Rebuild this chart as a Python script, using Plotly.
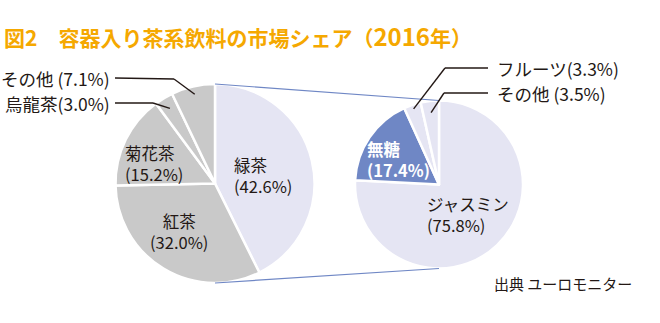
import math
import plotly.graph_objects as go

W, H = 660, 323
FONT = "Noto Sans CJK JP"

title_head = "図2　容器入り茶系飲料の市場シェア（"
title_year = "2016"
title_tail = "年）"
source_text = "出典 ユーロモニター"

# 容器入り茶系飲料（全体）
tea_labels = ["緑茶", "紅茶", "菊花茶", "烏龍茶", "その他"]
tea_shares = [42.6, 32.0, 15.2, 3.0, 7.1]

# 緑茶の内訳
green_labels = ["ジャスミン", "無糖", "フルーツ", "その他"]
green_shares = [75.8, 17.4, 3.3, 3.5]

GREY = "#C9C9C9"
LAVENDER = "#E5E5F3"
BLUE = "#6F87C5"
LINK = "#6F87C5"
INK = "#231815"
TITLE_COLOR = "#F5A800"

tea_colors = [LAVENDER, GREY, GREY, GREY, GREY]
green_colors = [LAVENDER, BLUE, LAVENDER, LAVENDER]

# pie geometry in pixels (centre x, centre y, radius)
L_CX, L_CY, L_R = 215, 183.5, 99.5
R_CX, R_CY, R_R = 439, 184.5, 84


def fx(x):
    return x / W


def fy(y):
    return 1 - y / H


def domain(cx, cy, r):
    return dict(x=[fx(cx - r), fx(cx + r)], y=[fy(cy + r), fy(cy - r)])


def slice_point(shares, idx, cx, cy, r, k):
    """Point at k*r along the bisector of slice idx (clockwise from 12 o'clock)."""
    total = sum(shares)
    start = sum(shares[:idx]) / total * 360
    mid = math.radians(start + shares[idx] / total * 180)
    return cx + k * r * math.sin(mid), cy - k * r * math.cos(mid)


fig = go.Figure()

for labels, shares, colors, (cx, cy, r) in [
    (tea_labels, tea_shares, tea_colors, (L_CX, L_CY, L_R)),
    (green_labels, green_shares, green_colors, (R_CX, R_CY, R_R)),
]:
    fig.add_trace(go.Pie(
        labels=labels, values=shares, sort=False, direction="clockwise",
        rotation=0, textinfo="none", hoverinfo="label+percent",
        marker=dict(colors=colors, line=dict(color="white", width=2.5)),
        domain=domain(cx, cy, r), showlegend=False,
    ))

shapes = []
annotations = []


def seg(x0, y0, x1, y1, color=INK, width=1.4):
    shapes.append(dict(type="line", xref="paper", yref="paper",
                       x0=fx(x0), y0=fy(y0), x1=fx(x1), y1=fy(y1),
                       line=dict(color=color, width=width)))


def text(x, y, s, size=16.5, color=INK, xanchor="left", align="left", bold=False):
    annotations.append(dict(
        x=fx(x), y=fy(y), xref="paper", yref="paper", text=s, showarrow=False,
        xanchor=xanchor, yanchor="middle", align=align,
        font=dict(family=FONT, size=size, color=color, weight=700 if bold else 400),
    ))


def pct(v):
    return f"({v:.1f}%)"


# lines joining the 緑茶 slice to its breakdown
seg(L_CX, L_CY - L_R, R_CX, R_CY - R_R, color=LINK, width=1.2)
seg(L_CX, L_CY + L_R, R_CX, R_CY + R_R, color=LINK, width=1.2)

# labels inside the left pie: (index, x, y, xanchor, align)
for i, x, y, xa, al in [(0, 232, 175, "left", "left"),
                        (1, 179, 231, "center", "center"),
                        (2, 123, 163, "left", "left")]:
    text(x, y, f"{tea_labels[i]}<br>{pct(tea_shares[i])}", xanchor=xa, align=al)

# labels inside the right pie
text(365, 160, f"{green_labels[1]}<br>{pct(green_shares[1])}", color="white", bold=True)
text(425, 214, f"{green_labels[0]}<br>{pct(green_shares[0])}")

# callouts for the thin slices: (labels, shares, pie, idx, radial k, elbow, label end x, label y, side)
callouts = [
    (tea_labels, tea_shares, (L_CX, L_CY, L_R), 4, 0.92, (174, 79), 115, 78, "left"),
    (tea_labels, tea_shares, (L_CX, L_CY, L_R), 3, 0.88, (153, 103), 115, 103, "left"),
    (green_labels, green_shares, (R_CX, R_CY, R_R), 2, 0.95, (445, 68), 488, 68, "right"),
    (green_labels, green_shares, (R_CX, R_CY, R_R), 3, 0.86, (444, 93), 488, 93, "right"),
]
for labels, shares, (cx, cy, r), i, k, (ex, ey), lx, ly, side in callouts:
    px, py = slice_point(shares, i, cx, cy, r, k)
    seg(px, py, ex, ey)
    seg(ex, ey, lx, ly)
    gap = " " if labels[i] == "その他" else ""
    label = f"{labels[i]}{gap}{pct(shares[i])}"
    if side == "left":
        text(lx - 3, ly, label, size=17.5, xanchor="right", align="right")
    else:
        text(lx + 7, ly, label, size=17.5)

# title and source
title = f"{title_head}<span style='font-size:24px'>{title_year}</span>{title_tail}"
text(2, 36, title, size=21, color=TITLE_COLOR, bold=True)
text(492, 283, source_text, size=15, color=INK)

fig.update_layout(
    width=W, height=H, autosize=False,
    margin=dict(l=0, r=0, t=0, b=0),
    paper_bgcolor="white", plot_bgcolor="white",
    font=dict(family=FONT, color=INK),
    shapes=shapes, annotations=annotations,
)

fig.write_html("out.html")
